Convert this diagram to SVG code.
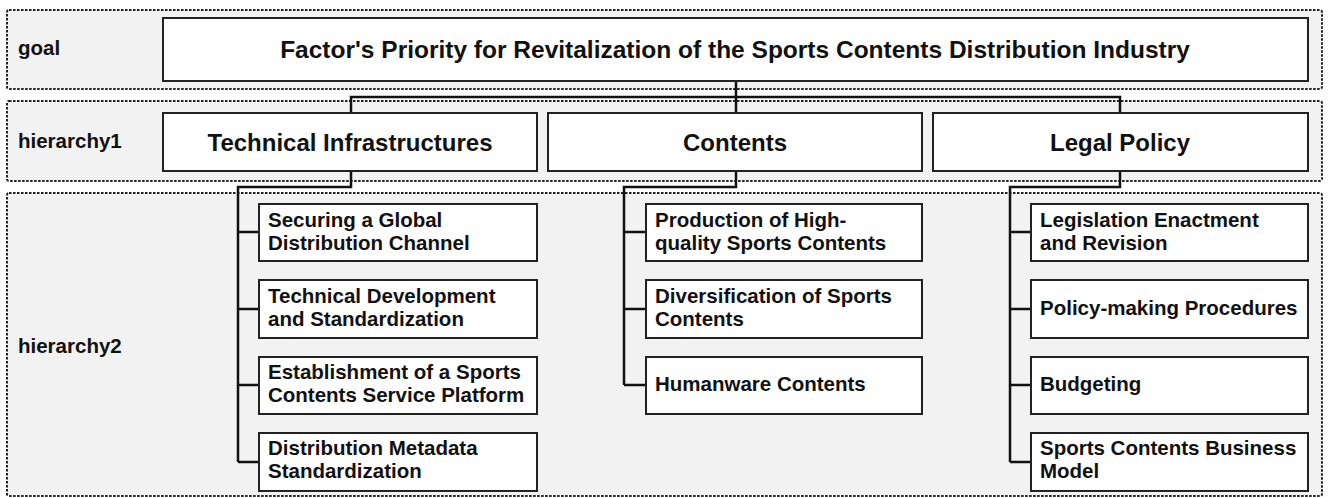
<svg xmlns="http://www.w3.org/2000/svg" width="1328" height="498" viewBox="0 0 1328 498">
<style>
.band{fill:#f2f2f2;stroke:#222;stroke-width:2;stroke-dasharray:2.5 1.5}
.box{fill:#fff;stroke:#222;stroke-width:2}
.lbl{font-family:"Liberation Sans",Arial,sans-serif;font-weight:bold;font-size:20.5px;fill:#111}
.t0{font-family:"Liberation Sans",Arial,sans-serif;font-weight:bold;font-size:24.5px;fill:#111;text-anchor:middle}
.t1{font-family:"Liberation Sans",Arial,sans-serif;font-weight:bold;font-size:24px;fill:#111;text-anchor:middle}
.t2{font-family:"Liberation Sans",Arial,sans-serif;font-weight:bold;font-size:20.5px;fill:#111}
.con{fill:none;stroke:#111;stroke-width:2.5}
</style>
<g id="bands">
<rect class="band" x="7" y="10" width="1315" height="79" rx="2"/>
<rect class="band" x="7" y="101" width="1315" height="80" rx="2"/>
<rect class="band" x="7" y="193" width="1315" height="303" rx="2"/>
<text class="lbl" x="18" y="55">goal</text>
<text class="lbl" x="18" y="148">hierarchy1</text>
<text class="lbl" x="18" y="353">hierarchy2</text>
</g>
<g id="connectors">
<path class="con" d="M736 81 V113 M351 113 V97 H1120 V113"/>
<path class="con" d="M351 171 V187 H238 V462 M238 232 H259 M238 309 H259 M238 385 H259 M238 462 H259"/>
<path class="con" d="M736 171 V187 H624 V385 M624 232 H646 M624 309 H646 M624 385 H646"/>
<path class="con" d="M1120 171 V187 H1010 V462 M1010 232 H1031 M1010 309 H1031 M1010 385 H1031 M1010 462 H1031"/>
</g>
<g id="goal">
<rect class="box" x="163" y="18" width="1145" height="63"/>
<text class="t0" x="735" y="58">Factor's Priority for Revitalization of the Sports Contents Distribution Industry</text>
</g>
<g id="tech">
<rect class="box" x="163" y="113" width="374" height="58"/>
<text class="t1" x="350" y="151">Technical Infrastructures</text>
</g>
<g id="contents">
<rect class="box" x="548" y="113" width="374" height="58"/>
<text class="t1" x="735" y="151">Contents</text>
</g>
<g id="legal">
<rect class="box" x="933" y="113" width="375" height="58"/>
<text class="t1" x="1120" y="151">Legal Policy</text>
</g>
<g id="t-1"><rect class="box" x="259" y="204" width="278" height="57"/><text class="t2" x="268" y="227">Securing a Global</text><text class="t2" x="268" y="250">Distribution Channel</text></g>
<g id="t-2"><rect class="box" x="259" y="280" width="278" height="58"/><text class="t2" x="268" y="303">Technical Development</text><text class="t2" x="268" y="326">and Standardization</text></g>
<g id="t-3"><rect class="box" x="259" y="357" width="278" height="57"/><text class="t2" x="268" y="379">Establishment of a Sports</text><text class="t2" x="268" y="402">Contents Service Platform</text></g>
<g id="t-4"><rect class="box" x="259" y="433" width="278" height="58"/><text class="t2" x="268" y="455">Distribution Metadata</text><text class="t2" x="268" y="478">Standardization</text></g>
<g id="c-1"><rect class="box" x="646" y="204" width="276" height="57"/><text class="t2" x="655" y="227">Production of High-</text><text class="t2" x="655" y="250">quality Sports Contents</text></g>
<g id="c-2"><rect class="box" x="646" y="280" width="276" height="58"/><text class="t2" x="655" y="303">Diversification of Sports</text><text class="t2" x="655" y="326">Contents</text></g>
<g id="c-3"><rect class="box" x="646" y="357" width="276" height="57"/><text class="t2" x="655" y="391">Humanware Contents</text></g>
<g id="l-1"><rect class="box" x="1031" y="204" width="277" height="57"/><text class="t2" x="1040" y="227">Legislation Enactment</text><text class="t2" x="1040" y="250">and Revision</text></g>
<g id="l-2"><rect class="box" x="1031" y="280" width="277" height="58"/><text class="t2" x="1040" y="315">Policy-making Procedures</text></g>
<g id="l-3"><rect class="box" x="1031" y="357" width="277" height="57"/><text class="t2" x="1040" y="391">Budgeting</text></g>
<g id="l-4"><rect class="box" x="1031" y="433" width="277" height="58"/><text class="t2" x="1040" y="455">Sports Contents Business</text><text class="t2" x="1040" y="478">Model</text></g>
</svg>
